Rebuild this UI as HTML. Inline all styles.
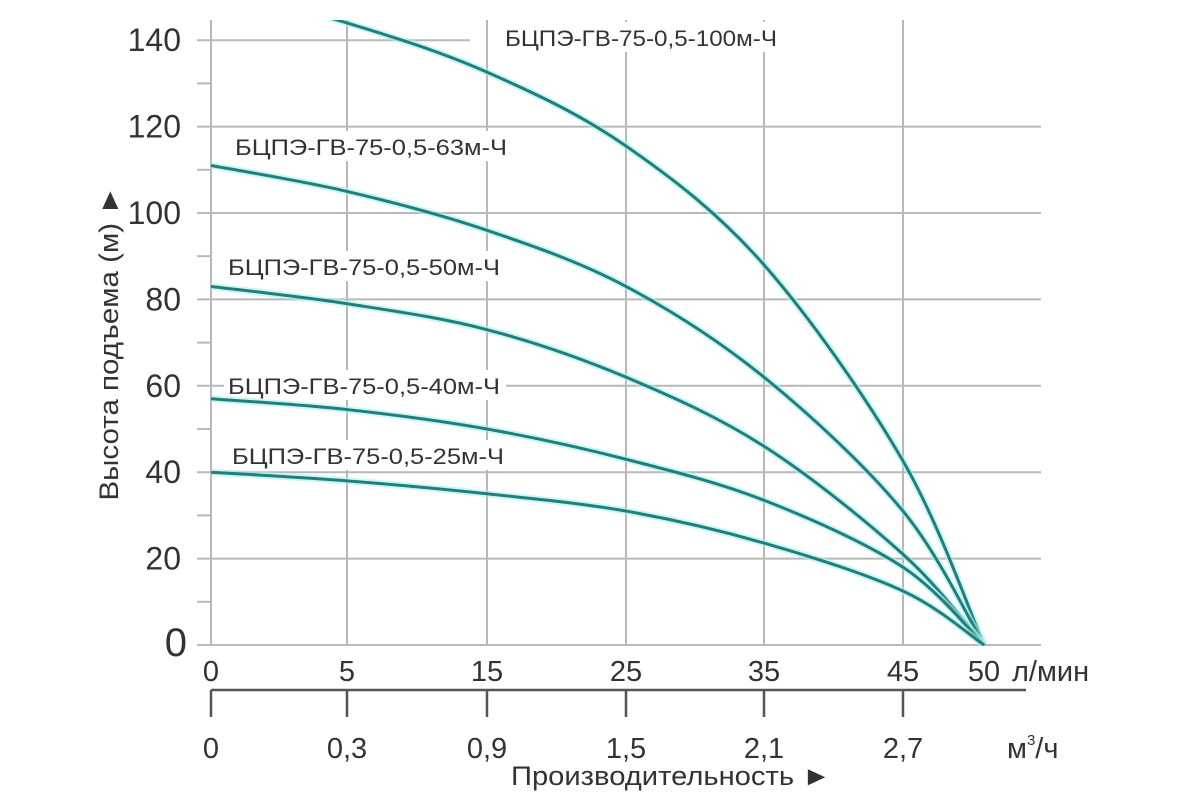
<!DOCTYPE html>
<html><head><meta charset="utf-8"><style>
html,body{margin:0;padding:0;background:#fff;width:1200px;height:800px;overflow:hidden}
svg{display:block}
text{font-family:"Liberation Sans Narrow","Liberation Sans","DejaVu Sans",sans-serif;fill:#333}
text.lab{font-family:"Liberation Sans","DejaVu Sans",sans-serif}
</style></head><body>
<svg id="chart" width="1200" height="800"></svg>
<script>
const flowTicks=[0,5,15,25,35,45,50];
const flowLabels=["0","5","15","25","35","45","50"];
const m3Labels=["0","0,3","0,9","1,5","2,1","2,7"];
const yTicks=[0,20,40,60,80,100,120,140];
const seriesNames=["БЦПЭ-ГВ-75-0,5-100м-Ч","БЦПЭ-ГВ-75-0,5-63м-Ч","БЦПЭ-ГВ-75-0,5-50м-Ч","БЦПЭ-ГВ-75-0,5-40м-Ч","БЦПЭ-ГВ-75-0,5-25м-Ч"];
const flowPts=[0,5,15,25,35,45,50];
const head100=[152,144,132.6,115.5,88,42.6,0];
const head63=[111,105,96,83,62,31,0];
const head50=[83,79,73,62,46,21,0];
const head40=[57,54.5,50,43,33.5,18,0];
const head25=[40,38,35,31,23.6,12.5,0];
const allHeads=[head100,head63,head50,head40,head25];

const NS="http://www.w3.org/2000/svg";
const svg=document.getElementById('chart');
const xPix=[211,347,487,626,764,903,984];
function xs(v){for(let i=0;i<flowTicks.length-1;i++){if(v<=flowTicks[i+1]){const t=(v-flowTicks[i])/(flowTicks[i+1]-flowTicks[i]);return xPix[i]+t*(xPix[i+1]-xPix[i]);}}return xPix[xPix.length-1];}
function ys(v){return 645-v*4.32;}
function el(tag,attrs,parent){const e=document.createElementNS(NS,tag);for(const k in attrs)e.setAttribute(k,attrs[k]);(parent||svg).appendChild(e);return e;}

const defs=el('defs',{});
const cp=el('clipPath',{id:'plotclip'},defs);
el('rect',{x:211,y:20,width:830,height:626},cp);

const grid=el('g',{stroke:'#b8b8b8','stroke-width':2});


yTicks.forEach(v=>{
  const l=el('line',{x1:197,x2:v===140?470:1041,y1:ys(v),y2:ys(v)},grid);
  
  
  if(v<140){const m=el('line',{x1:197,x2:211,y1:ys(v+10),y2:ys(v+10)},grid);
  
  }
});
flowTicks.slice(0,6).forEach(v=>{
  const l=el('line',{x1:xs(v),x2:xs(v),y1:20,y2:645},grid);
  
  
});

yTicks.forEach(v=>{
  const t=el('text',{x:v===0?187:181,y:ys(v)+11,'text-anchor':'end','font-size':v===0?40:32});
  t.textContent=String(v);
  
  
});
const yt=el('text',{transform:'translate(118,343) rotate(-90)','text-anchor':'middle','font-size':27,textLength:315,lengthAdjust:'spacingAndGlyphs'});
yt.textContent='Высота подъема (м) ►';



flowTicks.forEach((v,i)=>{
  const t=el('text',{x:xs(v),y:681,'text-anchor':'middle','font-size':29});
  t.textContent=flowLabels[i];
  
  
});
const u1=el('text',{x:1012,y:681,'font-size':29});u1.textContent='л/мин';



const ax2=el('g',{stroke:'#555','stroke-width':2.5});


el('line',{x1:211,x2:1026,y1:690,y2:690},ax2);
m3Labels.forEach((s,i)=>{
  el('line',{x1:xs(flowTicks[i]),x2:xs(flowTicks[i]),y1:690,y2:717},ax2);
  const t=el('text',{x:xs(flowTicks[i]),y:758,'text-anchor':'middle','font-size':29,stroke:'none'});
  t.textContent=s;
  
  
});
const u2=el('text',{x:1007,y:758,'font-size':29});u2.innerHTML='м<tspan font-size="15" dy="-13">3</tspan><tspan dy="13">/ч</tspan>';


const xt=el('text',{x:511,y:785,'font-size':27,textLength:320,lengthAdjust:'spacingAndGlyphs'});
xt.textContent='Производительность ►';



const labPos=[[505,38],[235,147],[228,267],[228,386],[232,456]];
seriesNames.forEach((n,i)=>{
  const [x,y]=labPos[i];
  const r=el('rect',{x:x-4,y:y-16,width:282,height:30,fill:'#fff'});
  
  
  const t=el('text',{class:'lab',x:x,y:y+8,'font-size':22,'textLength':272,lengthAdjust:'spacingAndGlyphs'});
  t.textContent=n;
  
  
});

function pathFor(h){
  const p=flowPts.map((f,i)=>[xs(f),ys(h[i])]);
  let d='M'+p[0][0]+','+p[0][1];
  for(let i=0;i<p.length-1;i++){
    const p0=p[i-1]||p[i],p1=p[i],p2=p[i+1],p3=p[i+2]||p[i+1];
    const c1=[p1[0]+(p2[0]-p0[0])/6,p1[1]+(p2[1]-p0[1])/6];
    const c2=[p2[0]-(p3[0]-p1[0])/6,p2[1]-(p3[1]-p1[1])/6];
    d+=' C'+c1+' '+c2+' '+p2;
  }
  return d;
}
const cg=el('g',{'clip-path':'url(#plotclip)',fill:'none'});
allHeads.forEach((h,i)=>{
  el('path',{d:pathFor(h),stroke:'#aeeeee','stroke-width':7,opacity:0.6},cg);
  const p=el('path',{d:pathFor(h),stroke:'#1f7f7b','stroke-width':3},cg);
  
  
});
</script>
</body></html>
